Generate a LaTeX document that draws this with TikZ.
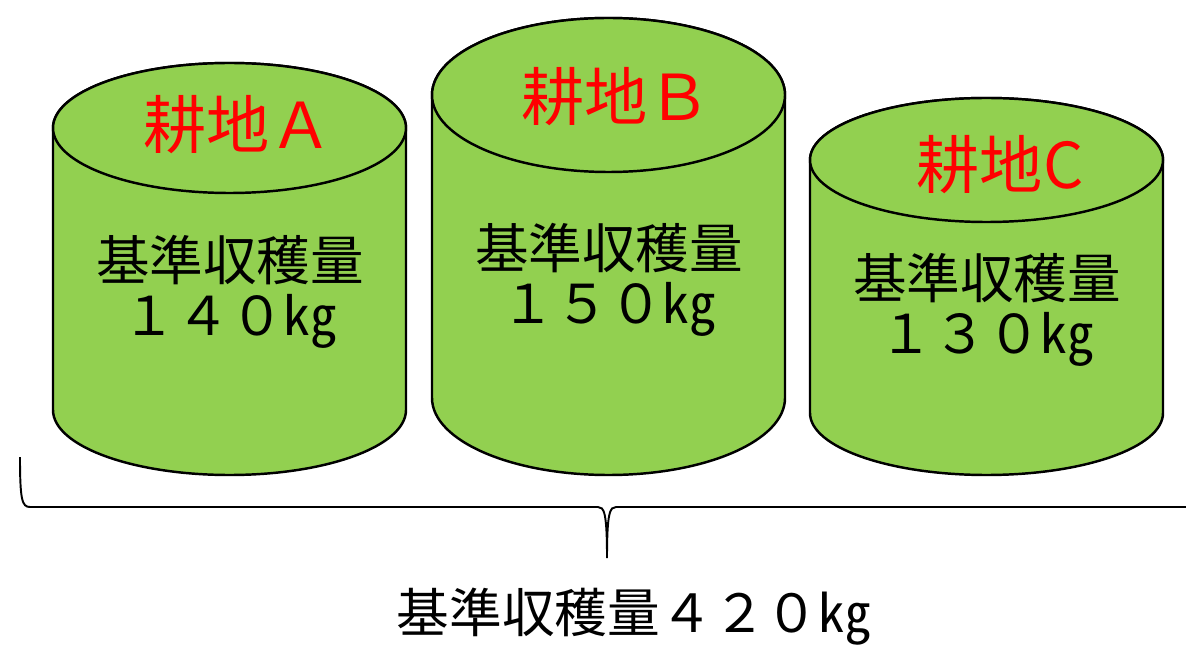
\documentclass[tikz,border=0pt]{standalone}
\usepackage{fontspec}
\newfontfamily\cjk{Noto Sans CJK JP}
\usepackage{tikz}
\usetikzlibrary{positioning}
\definecolor{fieldgreen}{RGB}{146,208,80}

\begin{document}
\begin{tikzpicture}[x=0.02cm, y=0.02cm,
		barrel/.style={draw=black, line width=1.4pt, fill=fieldgreen},
		fieldlabel/.style={text=red, font=\cjk\fontsize{36}{40}\selectfont},
		yieldtext/.style={align=center, font=\cjk\fontsize{30.5}{31}\selectfont},
		brace line/.style={draw=black, line width=1.1pt}]
				\useasboundingbox (0,0) rectangle (1186,-648);
				
				% field A
				\draw[barrel] (53,-128) -- (53,-410) arc[start angle=180, end angle=360, x radius=176.5, y radius=65] -- (406,-128) arc[start angle=0, end angle=180, x radius=176.5, y radius=65] -- cycle;
				\draw[barrel] (229.5,-128) ellipse[x radius=176.5, y radius=65];
				% field B
				\draw[barrel] (432,-95) -- (432,-398) arc[start angle=180, end angle=360, x radius=176.5, y radius=77] -- (785,-95) arc[start angle=0, end angle=180, x radius=176.5, y radius=77] -- cycle;
				\draw[barrel] (608.5,-95) ellipse[x radius=176.5, y radius=77];
				% field C
				\draw[barrel] (810,-160) -- (810,-413) arc[start angle=180, end angle=360, x radius=176.5, y radius=62] -- (1163,-160) arc[start angle=0, end angle=180, x radius=176.5, y radius=62] -- cycle;
				\draw[barrel] (986.5,-160) ellipse[x radius=176.5, y radius=62];
				
				\node[fieldlabel] (labelA) at (238,-125) {耕地Ａ};
				\node[fieldlabel] (labelB) at (616,-97) {耕地Ｂ};
				\node[fieldlabel] (labelC) at (1000,-165) {耕地C};
				
				\node[yieldtext] (yieldA) at (230,-292) {基準収穫量\\１４０㎏};
				\node[yieldtext] (yieldB) at (609,-280) {基準収穫量\\１５０㎏};
				\node[yieldtext] (yieldC) at (987,-310) {基準収穫量\\１３０㎏};
				
				% brace under the fields
				\coordinate (braceL) at (20,-457);
				\coordinate (braceTip) at (607,-558);
				\coordinate (braceR) at (1186,-507);
				\draw[brace line] (braceL) .. controls (20,-500) and (22,-507) .. (30,-507) -- (598,-507) .. controls (604,-507) and (607,-512) .. (braceTip) .. controls (607,-512) and (610,-507) .. (616,-507) -- (braceR);
				
				\node[font=\cjk\fontsize{30}{34}\selectfont] (total) at (634,-617) {基準収穫量４２０㎏};
\end{tikzpicture}
\end{document}
